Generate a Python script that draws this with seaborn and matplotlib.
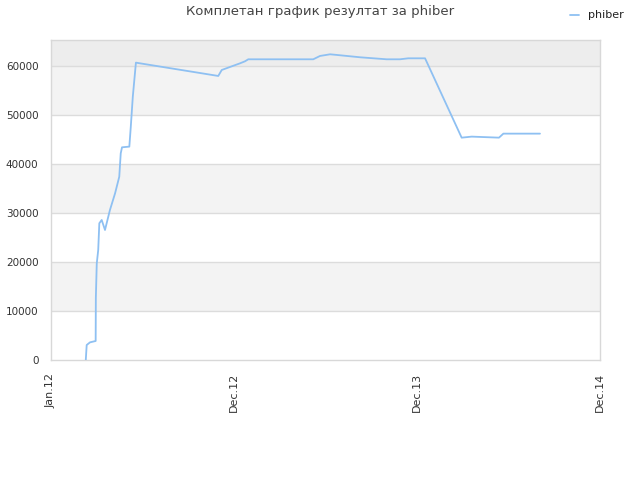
"""Score history line chart for phiber."""

import matplotlib

matplotlib.use("Agg")
import matplotlib.pyplot as plt
import pandas as pd
import seaborn as sns

# x in years from Jan.12 on the equally spaced tick scale
t_years = [
    0.190, 0.195, 0.213, 0.244, 0.245, 0.250, 0.258, 0.264, 0.277, 0.295,
    0.322, 0.350, 0.373, 0.381, 0.388, 0.428, 0.436, 0.447, 0.464, 0.486,
    0.914, 0.933, 1.033, 1.060, 1.078, 1.433, 1.470, 1.525, 1.561, 1.689,
    1.834, 1.907, 1.952, 2.044, 2.244, 2.299, 2.399, 2.448, 2.472, 2.672,
]
score = [
    0, 3060, 3600, 3880, 12650, 19700, 22450, 27900, 28570, 26530,
    30600, 34000, 37400, 42170, 43400, 43540, 47620, 53740, 60680, 60540,
    57960, 59180, 60540, 60950, 61360, 61360, 62040, 62380, 62250, 61770,
    61360, 61360, 61560, 61560, 45370, 45580, 45440, 45370, 46190, 46190,
]
tick_labels = ["Jan.12", "Dec.12", "Dec.13", "Dec.14"]
y_ticks = [0, 10000, 20000, 30000, 40000, 50000, 60000]
player = "phiber"

df = pd.DataFrame({"t": t_years, "score": score, "player": player})

sns.set_style("white")
fig = plt.figure(figsize=(6.4, 4.8), dpi=100)
ax = fig.add_axes([0.0797, 0.25, 0.8578, 0.6667])

y_max = 65300
# alternating bands between gridlines
for i, lo in enumerate(y_ticks):
    hi = y_ticks[i + 1] if i + 1 < len(y_ticks) else y_max
    if lo == 60000:
        color = "#ededed"
    elif i % 2 == 1:
        color = "#f3f3f3"
    else:
        color = "white"
    ax.axhspan(lo, hi, color=color, zorder=0, lw=0)
for y in y_ticks[1:]:
    ax.axhline(y, color="#dcdcdc", lw=1, zorder=1)

sns.lineplot(data=df, x="t", y="score", hue="player", palette=["#8ec0f2"],
             lw=1.3, ax=ax, legend=False, zorder=3)

ax.set_xlim(0, 3)
ax.set_ylim(0, y_max)
ax.set_xticks(range(len(tick_labels)))
ax.set_xticklabels(tick_labels, rotation=90, fontsize=8, color="#333333")
ax.set_yticks(y_ticks)
ax.set_yticklabels([str(v) for v in y_ticks], fontsize=7.5, color="#333333")
ax.tick_params(axis="x", length=0, pad=9)
ax.tick_params(axis="y", length=0, pad=9)
ax.set_xlabel("")
ax.set_ylabel("")
for s in ax.spines.values():
    s.set_color("#d8d8d8")
    s.set_linewidth(1)

fig.text(0.5, 0.975, "Комплетан график резултат за phiber", ha="center",
         va="center", fontsize=9.5, color="#444444")
fig.lines.append(plt.Line2D([0.891, 0.905], [0.968, 0.968],
                            transform=fig.transFigure, color="#8ec0f2", lw=1.3))
fig.text(0.918, 0.969, player, ha="left", va="center", fontsize=8,
         color="#222222")

fig.savefig("out.png", dpi=100)
